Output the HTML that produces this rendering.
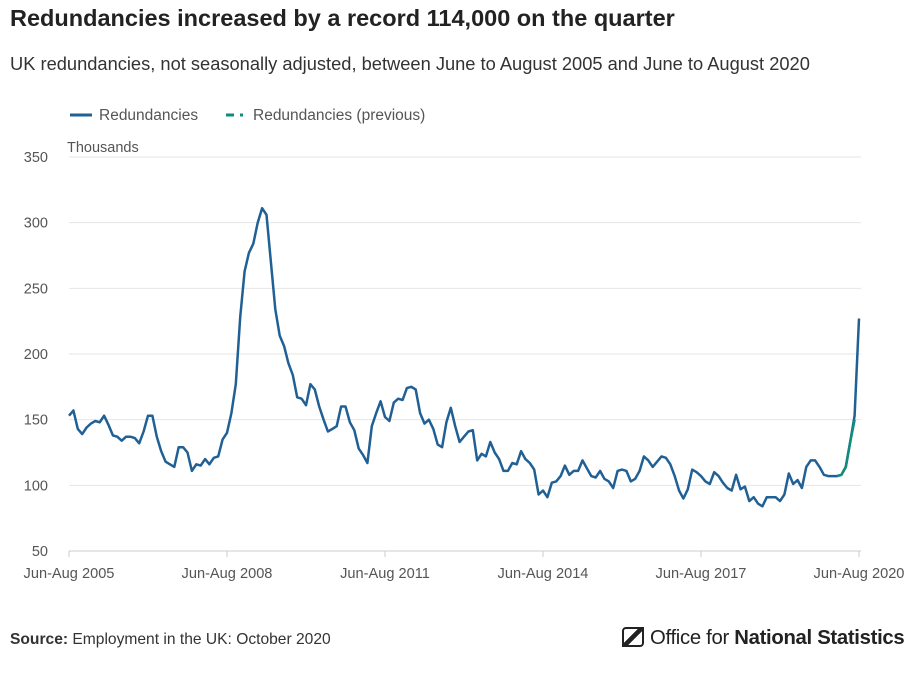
<!DOCTYPE html>
<html><head><meta charset="utf-8">
<style>
body{margin:0;background:#fff;font-family:"Liberation Sans",sans-serif;}
#wrap{position:relative;width:921px;height:682px;overflow:hidden;}
.t{position:absolute;white-space:nowrap;}
</style></head>
<body><div id="wrap">
<div class="t" style="left:10px;top:5px;font-size:23.5px;font-weight:bold;color:#222;">Redundancies increased by a record 114,000 on the quarter</div>
<div class="t" style="left:10px;top:53px;font-size:18.3px;color:#333;">UK redundancies, not seasonally adjusted, between June to August 2005 and June to August 2020</div>
<svg id="chart" width="921" height="682" style="position:absolute;left:0;top:0;" xmlns="http://www.w3.org/2000/svg"></svg>
<div class="t" style="left:10px;top:631px;font-size:15.6px;color:#333;"><b>Source:</b> Employment in the UK: October 2020</div>
<div class="t" style="left:622px;top:627px;font-size:20.3px;color:#222;letter-spacing:-0.3px;"><span style="display:inline-block;width:22px;height:20px;vertical-align:-3px;margin-right:6px;background:linear-gradient(135deg,#fff 40%,#222 40%,#222 60%,#fff 60%);border:2px solid #222;border-radius:4px 0 4px 0;box-sizing:border-box;"></span>Office for <b>National Statistics</b></div>
</div>
<script>
const values=[153,157,143,139,144,147,149,148,153,146,138,137,134,137,137,136,132,141,153,153,137,126,118,116,114,129,129,125,111,116,115,120,116,121,122,135,140,155,177,228,263,277,284,300,311,306,270,234,214,206,193,184,167,166,161,177,173,160,150,141,143,145,160,160,148,142,128,123,117,145,155,164,152,149,163,166,165,174,175,173,155,147,150,143,131,129,148,159,145,133,137,141,142,119,124,122,133,125,120,111,111,117,116,126,120,117,112,93,96,91,102,103,107,115,108,111,111,119,113,107,106,111,105,103,98,111,112,111,103,105,111,122,119,114,118,122,121,116,107,96,90,97,112,110,107,103,101,110,107,102,98,96,108,97,99,88,91,86,84,91,91,91,88,93,109,101,104,98,114,119,119,114,108,107,107,107,108,114,133,153,227];
const prevStart=175;
const prevValues=[107,108,114,133,150];
const yTicks=[50,100,150,200,250,300,350];
const xTickIdx=[0,36,72,108,144,180];
const xTickLabels=["Jun-Aug 2005","Jun-Aug 2008","Jun-Aug 2011","Jun-Aug 2014","Jun-Aug 2017","Jun-Aug 2020"];
const svg=document.getElementById('chart');
const NS='http://www.w3.org/2000/svg';
const x=i=>69+i*(859-69)/180;
const y=v=>551-(v-50)*(394/300);
function mk(t,a){const e=document.createElementNS(NS,t);for(const k in a)e.setAttribute(k,a[k]);svg.appendChild(e);return e;}
yTicks.forEach(v=>{
 const g=mk('line',{x1:69,x2:861,y1:y(v),y2:y(v),stroke:v===50?'#ccc':'#e6e6e6','stroke-width':1});
 
 
 const t=mk('text',{x:48,y:y(v)+5,'text-anchor':'end','font-size':14.5,fill:'#555','font-family':'Liberation Sans, sans-serif'});
 t.textContent=v;
 
 
});
const u=mk('text',{x:67,y:152,'font-size':14.5,fill:'#555','font-family':'Liberation Sans, sans-serif'});u.textContent='Thousands';


xTickIdx.forEach((idx,k)=>{
 const l=mk('line',{x1:x(idx),x2:x(idx),y1:551,y2:557,stroke:'#ccc'});
 
 
 const t=mk('text',{x:x(idx),y:578,'text-anchor':'middle','font-size':14.6,fill:'#555','font-family':'Liberation Sans, sans-serif'});
 t.textContent=xTickLabels[k];
 
 
});
const p=mk('path',{d:values.map((v,i)=>(i?'L':'M')+x(i).toFixed(1)+' '+y(v).toFixed(1)).join(''),fill:'none',stroke:'#206095','stroke-width':2.5,'stroke-linejoin':'round'});


const pp=mk('path',{d:prevValues.map((v,i)=>(i?'L':'M')+x(prevStart+i).toFixed(1)+' '+y(v).toFixed(1)).join(''),fill:'none',stroke:'#118c7b','stroke-width':2.5});


const l1=mk('line',{x1:70,x2:92,y1:115,y2:115,stroke:'#206095','stroke-width':3});


const t1=mk('text',{x:99,y:120,'font-size':15.5,fill:'#555','font-family':'Liberation Sans, sans-serif'});t1.textContent='Redundancies';


const l2=mk('line',{x1:226,x2:246,y1:115,y2:115,stroke:'#118c7b','stroke-width':3,'stroke-dasharray':'8 6 3 6'});


const t2=mk('text',{x:253,y:120,'font-size':15.5,fill:'#555','font-family':'Liberation Sans, sans-serif'});t2.textContent='Redundancies (previous)';


</script>
</body></html>
